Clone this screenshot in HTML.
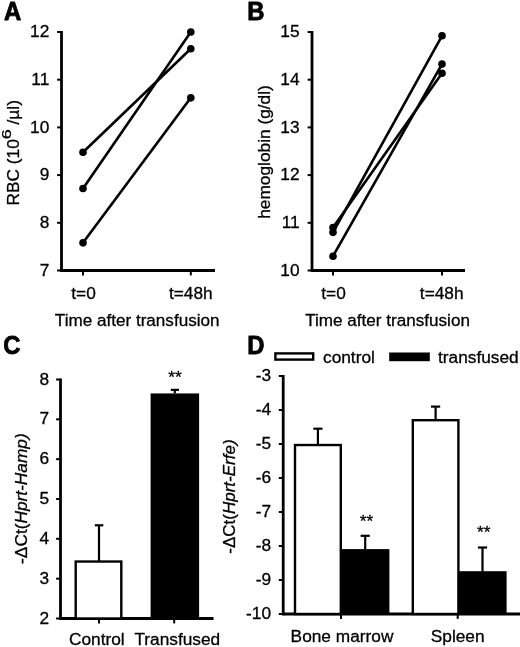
<!DOCTYPE html>
<html><head><meta charset="utf-8"><title>Figure</title>
<style>
html,body{margin:0;padding:0;background:#fff;}
svg{display:block;font-family:"Liberation Sans", sans-serif;fill:#000;filter:blur(0.45px);}
text{stroke:#000;stroke-width:0.3px;stroke-linejoin:round;}
text.pl{stroke-width:0.8px;}
</style></head><body>
<svg width="520" height="647" viewBox="0 0 520 647">
<rect width="520" height="647" fill="#fff"/>
<text transform="translate(4,19.7) scale(0.91,1)" class="pl" font-size="26.2" font-weight="bold">A</text>
<line x1="61.50" y1="31.00" x2="61.50" y2="271.90" stroke="#000" stroke-width="2.8" stroke-linecap="butt"/>
<line x1="61.50" y1="270.50" x2="215.00" y2="270.50" stroke="#000" stroke-width="2.8" stroke-linecap="butt"/>
<line x1="57.10" y1="270.50" x2="61.50" y2="270.50" stroke="#000" stroke-width="2.0" stroke-linecap="butt"/>
<text x="49.30" y="275.60" font-size="17.3" text-anchor="end" font-weight="normal" >7</text>
<line x1="57.10" y1="222.80" x2="61.50" y2="222.80" stroke="#000" stroke-width="2.0" stroke-linecap="butt"/>
<text x="49.30" y="227.90" font-size="17.3" text-anchor="end" font-weight="normal" >8</text>
<line x1="57.10" y1="175.10" x2="61.50" y2="175.10" stroke="#000" stroke-width="2.0" stroke-linecap="butt"/>
<text x="49.30" y="180.20" font-size="17.3" text-anchor="end" font-weight="normal" >9</text>
<line x1="57.10" y1="127.40" x2="61.50" y2="127.40" stroke="#000" stroke-width="2.0" stroke-linecap="butt"/>
<text x="49.30" y="132.50" font-size="17.3" text-anchor="end" font-weight="normal" >10</text>
<line x1="57.10" y1="79.70" x2="61.50" y2="79.70" stroke="#000" stroke-width="2.0" stroke-linecap="butt"/>
<text x="49.30" y="84.80" font-size="17.3" text-anchor="end" font-weight="normal" >11</text>
<line x1="57.10" y1="32.00" x2="61.50" y2="32.00" stroke="#000" stroke-width="2.0" stroke-linecap="butt"/>
<text x="49.30" y="37.10" font-size="17.3" text-anchor="end" font-weight="normal" >12</text>
<line x1="83.00" y1="270.50" x2="83.00" y2="275.40" stroke="#000" stroke-width="2.0" stroke-linecap="butt"/>
<line x1="190.80" y1="270.50" x2="190.80" y2="275.40" stroke="#000" stroke-width="2.0" stroke-linecap="butt"/>
<text x="83.50" y="298.60" font-size="17.3" text-anchor="middle" font-weight="normal" >t=0</text>
<text x="190.80" y="298.60" font-size="17.3" text-anchor="middle" font-weight="normal" >t=48h</text>
<text x="137.20" y="325.60" font-size="17.1" text-anchor="middle" font-weight="normal" >Time after transfusion</text>
<line x1="83.00" y1="152.20" x2="190.80" y2="48.69" stroke="#000" stroke-width="2.6" stroke-linecap="butt"/>
<circle cx="83.00" cy="152.20" r="3.8" fill="#000"/>
<circle cx="190.80" cy="48.69" r="3.8" fill="#000"/>
<line x1="83.00" y1="188.46" x2="190.80" y2="32.00" stroke="#000" stroke-width="2.6" stroke-linecap="butt"/>
<circle cx="83.00" cy="188.46" r="3.8" fill="#000"/>
<circle cx="190.80" cy="32.00" r="3.8" fill="#000"/>
<line x1="83.00" y1="242.83" x2="190.80" y2="97.83" stroke="#000" stroke-width="2.6" stroke-linecap="butt"/>
<circle cx="83.00" cy="242.83" r="3.8" fill="#000"/>
<circle cx="190.80" cy="97.83" r="3.8" fill="#000"/>
<text transform="translate(18.5,152.8) rotate(-90)" font-size="17.3" text-anchor="middle">RBC (10<tspan dy="-7.3" font-size="13.6" textLength="10" lengthAdjust="spacingAndGlyphs">6</tspan><tspan dy="7.3"> /µl)</tspan></text>
<text transform="translate(247.3,19.7) scale(0.91,1)" class="pl" font-size="26.2" font-weight="bold">B</text>
<line x1="312.00" y1="31.00" x2="312.00" y2="271.90" stroke="#000" stroke-width="2.8" stroke-linecap="butt"/>
<line x1="312.00" y1="270.50" x2="465.00" y2="270.50" stroke="#000" stroke-width="2.8" stroke-linecap="butt"/>
<line x1="307.60" y1="270.50" x2="312.00" y2="270.50" stroke="#000" stroke-width="2.0" stroke-linecap="butt"/>
<text x="299.60" y="275.80" font-size="17.3" text-anchor="end" font-weight="normal" >10</text>
<line x1="307.60" y1="222.80" x2="312.00" y2="222.80" stroke="#000" stroke-width="2.0" stroke-linecap="butt"/>
<text x="299.60" y="228.10" font-size="17.3" text-anchor="end" font-weight="normal" >11</text>
<line x1="307.60" y1="175.10" x2="312.00" y2="175.10" stroke="#000" stroke-width="2.0" stroke-linecap="butt"/>
<text x="299.60" y="180.40" font-size="17.3" text-anchor="end" font-weight="normal" >12</text>
<line x1="307.60" y1="127.40" x2="312.00" y2="127.40" stroke="#000" stroke-width="2.0" stroke-linecap="butt"/>
<text x="299.60" y="132.70" font-size="17.3" text-anchor="end" font-weight="normal" >13</text>
<line x1="307.60" y1="79.70" x2="312.00" y2="79.70" stroke="#000" stroke-width="2.0" stroke-linecap="butt"/>
<text x="299.60" y="85.00" font-size="17.3" text-anchor="end" font-weight="normal" >14</text>
<line x1="307.60" y1="32.00" x2="312.00" y2="32.00" stroke="#000" stroke-width="2.0" stroke-linecap="butt"/>
<text x="299.60" y="37.30" font-size="17.3" text-anchor="end" font-weight="normal" >15</text>
<line x1="333.00" y1="270.50" x2="333.00" y2="275.40" stroke="#000" stroke-width="2.0" stroke-linecap="butt"/>
<line x1="442.00" y1="270.50" x2="442.00" y2="275.40" stroke="#000" stroke-width="2.0" stroke-linecap="butt"/>
<text x="333.50" y="298.60" font-size="17.3" text-anchor="middle" font-weight="normal" >t=0</text>
<text x="441.70" y="298.60" font-size="17.3" text-anchor="middle" font-weight="normal" >t=48h</text>
<text x="387.60" y="325.60" font-size="17.1" text-anchor="middle" font-weight="normal" >Time after transfusion</text>
<line x1="333.00" y1="227.57" x2="442.00" y2="73.31" stroke="#000" stroke-width="2.6" stroke-linecap="butt"/>
<circle cx="333.00" cy="227.57" r="3.8" fill="#000"/>
<circle cx="442.00" cy="73.31" r="3.8" fill="#000"/>
<line x1="333.00" y1="232.34" x2="442.00" y2="35.82" stroke="#000" stroke-width="2.6" stroke-linecap="butt"/>
<circle cx="333.00" cy="232.34" r="3.8" fill="#000"/>
<circle cx="442.00" cy="35.82" r="3.8" fill="#000"/>
<line x1="333.00" y1="256.19" x2="442.00" y2="64.10" stroke="#000" stroke-width="2.6" stroke-linecap="butt"/>
<circle cx="333.00" cy="256.19" r="3.8" fill="#000"/>
<circle cx="442.00" cy="64.10" r="3.8" fill="#000"/>
<text transform="translate(269.8,152) rotate(-90)" font-size="17.3" text-anchor="middle">hemoglobin (g/dl)</text>
<text transform="translate(3.2,354) scale(0.91,1)" class="pl" font-size="26.2" font-weight="bold">C</text>
<line x1="60.50" y1="378.50" x2="60.50" y2="619.90" stroke="#000" stroke-width="2.8" stroke-linecap="butt"/>
<line x1="60.50" y1="618.50" x2="213.50" y2="618.50" stroke="#000" stroke-width="2.8" stroke-linecap="butt"/>
<line x1="56.10" y1="618.50" x2="60.50" y2="618.50" stroke="#000" stroke-width="2.0" stroke-linecap="butt"/>
<text x="49.20" y="623.50" font-size="17.3" text-anchor="end" font-weight="normal" >2</text>
<line x1="56.10" y1="578.67" x2="60.50" y2="578.67" stroke="#000" stroke-width="2.0" stroke-linecap="butt"/>
<text x="49.20" y="583.67" font-size="17.3" text-anchor="end" font-weight="normal" >3</text>
<line x1="56.10" y1="538.83" x2="60.50" y2="538.83" stroke="#000" stroke-width="2.0" stroke-linecap="butt"/>
<text x="49.20" y="543.83" font-size="17.3" text-anchor="end" font-weight="normal" >4</text>
<line x1="56.10" y1="499.00" x2="60.50" y2="499.00" stroke="#000" stroke-width="2.0" stroke-linecap="butt"/>
<text x="49.20" y="504.00" font-size="17.3" text-anchor="end" font-weight="normal" >5</text>
<line x1="56.10" y1="459.17" x2="60.50" y2="459.17" stroke="#000" stroke-width="2.0" stroke-linecap="butt"/>
<text x="49.20" y="464.17" font-size="17.3" text-anchor="end" font-weight="normal" >6</text>
<line x1="56.10" y1="419.33" x2="60.50" y2="419.33" stroke="#000" stroke-width="2.0" stroke-linecap="butt"/>
<text x="49.20" y="424.33" font-size="17.3" text-anchor="end" font-weight="normal" >7</text>
<line x1="56.10" y1="379.50" x2="60.50" y2="379.50" stroke="#000" stroke-width="2.0" stroke-linecap="butt"/>
<text x="49.20" y="384.50" font-size="17.3" text-anchor="end" font-weight="normal" >8</text>
<line x1="99.00" y1="618.50" x2="99.00" y2="623.40" stroke="#000" stroke-width="2.0" stroke-linecap="butt"/>
<line x1="174.20" y1="618.50" x2="174.20" y2="623.40" stroke="#000" stroke-width="2.0" stroke-linecap="butt"/>
<rect x="75.70" y="561.54" width="45.60" height="56.96" fill="#fff" stroke="#000" stroke-width="2.4"/>
<line x1="99.00" y1="561.54" x2="99.00" y2="525.29" stroke="#000" stroke-width="2.2" stroke-linecap="butt"/>
<line x1="94.80" y1="525.29" x2="103.30" y2="525.29" stroke="#000" stroke-width="2.2" stroke-linecap="butt"/>
<rect x="150.60" y="393.44" width="48.50" height="225.06" fill="#000"/>
<line x1="174.80" y1="393.44" x2="174.80" y2="389.86" stroke="#000" stroke-width="2.2" stroke-linecap="butt"/>
<line x1="170.80" y1="389.86" x2="179.00" y2="389.86" stroke="#000" stroke-width="2.2" stroke-linecap="butt"/>
<text x="175.00" y="383.00" font-size="17.3" text-anchor="middle" font-weight="normal" >**</text>
<text x="96.80" y="645.00" font-size="17.3" text-anchor="middle" font-weight="normal" >Control</text>
<text x="177.30" y="645.00" font-size="17.3" text-anchor="middle" font-weight="normal" >Transfused</text>
<text transform="translate(27.2,498.6) rotate(-90)" font-size="17.3" text-anchor="middle">-ΔCt(<tspan font-style="italic">Hprt-Hamp)</tspan></text>
<text transform="translate(247.3,354) scale(0.91,1)" class="pl" font-size="26.2" font-weight="bold">D</text>
<line x1="283.20" y1="375.00" x2="283.20" y2="615.40" stroke="#000" stroke-width="2.8" stroke-linecap="butt"/>
<line x1="283.20" y1="614.00" x2="520.00" y2="614.00" stroke="#000" stroke-width="2.8" stroke-linecap="butt"/>
<line x1="278.80" y1="614.00" x2="283.20" y2="614.00" stroke="#000" stroke-width="2.0" stroke-linecap="butt"/>
<text x="271.00" y="618.60" font-size="17.3" text-anchor="end" font-weight="normal" >-10</text>
<line x1="278.80" y1="580.00" x2="283.20" y2="580.00" stroke="#000" stroke-width="2.0" stroke-linecap="butt"/>
<text x="271.00" y="584.60" font-size="17.3" text-anchor="end" font-weight="normal" >-9</text>
<line x1="278.80" y1="546.00" x2="283.20" y2="546.00" stroke="#000" stroke-width="2.0" stroke-linecap="butt"/>
<text x="271.00" y="550.60" font-size="17.3" text-anchor="end" font-weight="normal" >-8</text>
<line x1="278.80" y1="512.00" x2="283.20" y2="512.00" stroke="#000" stroke-width="2.0" stroke-linecap="butt"/>
<text x="271.00" y="516.60" font-size="17.3" text-anchor="end" font-weight="normal" >-7</text>
<line x1="278.80" y1="478.00" x2="283.20" y2="478.00" stroke="#000" stroke-width="2.0" stroke-linecap="butt"/>
<text x="271.00" y="482.60" font-size="17.3" text-anchor="end" font-weight="normal" >-6</text>
<line x1="278.80" y1="444.00" x2="283.20" y2="444.00" stroke="#000" stroke-width="2.0" stroke-linecap="butt"/>
<text x="271.00" y="448.60" font-size="17.3" text-anchor="end" font-weight="normal" >-5</text>
<line x1="278.80" y1="410.00" x2="283.20" y2="410.00" stroke="#000" stroke-width="2.0" stroke-linecap="butt"/>
<text x="271.00" y="414.60" font-size="17.3" text-anchor="end" font-weight="normal" >-4</text>
<line x1="278.80" y1="376.00" x2="283.20" y2="376.00" stroke="#000" stroke-width="2.0" stroke-linecap="butt"/>
<text x="271.00" y="380.60" font-size="17.3" text-anchor="end" font-weight="normal" >-3</text>
<line x1="341.00" y1="614.00" x2="341.00" y2="618.90" stroke="#000" stroke-width="2.0" stroke-linecap="butt"/>
<line x1="457.70" y1="614.00" x2="457.70" y2="618.90" stroke="#000" stroke-width="2.0" stroke-linecap="butt"/>
<rect x="295.00" y="445.02" width="45.80" height="168.98" fill="#fff" stroke="#000" stroke-width="2.4"/><line x1="317.90" y1="445.02" x2="317.90" y2="428.70" stroke="#000" stroke-width="2.2" stroke-linecap="butt"/><line x1="313.30" y1="428.70" x2="322.50" y2="428.70" stroke="#000" stroke-width="2.2" stroke-linecap="butt"/>
<rect x="341.00" y="549.10" width="48.40" height="64.90" fill="#000"/><line x1="365.20" y1="549.40" x2="365.20" y2="535.80" stroke="#000" stroke-width="2.2" stroke-linecap="butt"/><line x1="360.60" y1="535.80" x2="369.80" y2="535.80" stroke="#000" stroke-width="2.2" stroke-linecap="butt"/>
<rect x="412.80" y="420.20" width="45.60" height="193.80" fill="#fff" stroke="#000" stroke-width="2.4"/><line x1="435.60" y1="420.20" x2="435.60" y2="406.60" stroke="#000" stroke-width="2.2" stroke-linecap="butt"/><line x1="431.00" y1="406.60" x2="440.20" y2="406.60" stroke="#000" stroke-width="2.2" stroke-linecap="butt"/>
<rect x="458.40" y="571.20" width="48.20" height="42.80" fill="#000"/><line x1="482.50" y1="571.50" x2="482.50" y2="547.53" stroke="#000" stroke-width="2.2" stroke-linecap="butt"/><line x1="477.90" y1="547.53" x2="487.10" y2="547.53" stroke="#000" stroke-width="2.2" stroke-linecap="butt"/>
<text x="366.50" y="527.00" font-size="17.3" text-anchor="middle" font-weight="normal" >**</text>
<text x="483.80" y="537.50" font-size="17.3" text-anchor="middle" font-weight="normal" >**</text>
<text x="342.00" y="642.00" font-size="17.3" text-anchor="middle" font-weight="normal" >Bone marrow</text>
<text x="457.70" y="642.00" font-size="17.3" text-anchor="middle" font-weight="normal" >Spleen</text>
<rect x="275.40" y="353.40" width="37.80" height="6.20" fill="#fff" stroke="#000" stroke-width="2.4"/>
<text x="323.00" y="363.00" font-size="17.3" text-anchor="start" font-weight="normal" >control</text>
<rect x="389.20" y="352.50" width="40.60" height="8.70" fill="#000"/>
<text x="438.00" y="363.00" font-size="17.3" text-anchor="start" font-weight="normal" >transfused</text>
<text transform="translate(235.0,496.6) rotate(-90)" font-size="17.0" text-anchor="middle">-ΔCt(<tspan font-style="italic">Hprt-Erfe)</tspan></text>
</svg>
</body></html>
